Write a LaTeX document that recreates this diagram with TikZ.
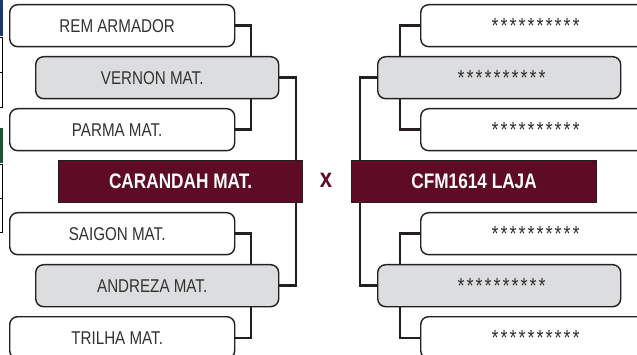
\documentclass[tikz,border=0pt]{standalone}
\usepackage{fontspec}
\setmainfont{Liberation Sans}[FakeStretch=0.82]
\usetikzlibrary{calc}
\definecolor{boxgrey}{RGB}{220,221,222}
\definecolor{maroonc}{RGB}{93,12,35}
\definecolor{linec}{RGB}{35,31,32}
\definecolor{txtc}{RGB}{50,50,50}
\definecolor{bluebar}{RGB}{30,55,110}
\definecolor{greenbar}{RGB}{25,85,50}
\definecolor{thin}{RGB}{120,120,120}
\newcommand\lsh[1]{\kern-10pt #1}
\newcommand\sx{\makebox[9pt]{\fontsize{22}{22}\selectfont *}}
\newcommand\stars{\raisebox{-3pt}{\sx\sx\sx\sx\sx\sx\sx\sx\sx\sx}}
\tikzset{
  team/.style={draw=linec, line width=1.4pt, rounded corners=8pt, minimum height=42pt,
    anchor=north west, inner sep=0pt, text=txtc, font=\fontsize{18.5}{20}\selectfont},
  wbox/.style={team, fill=white},
  gbox/.style={team, fill=boxgrey},
  finalbox/.style={draw=linec, line width=1.2pt, fill=maroonc, text=white, minimum height=42pt,
    anchor=north west, inner sep=0pt, font=\fontsize{21}{23}\selectfont\bfseries},
  conn/.style={draw=linec, line width=2.4pt},
}
\begin{document}
\begin{tikzpicture}[x=1pt,y=-1pt]
\useasboundingbox (0,0) rectangle (637,355);
\clip (0,0) rectangle (637,355);
% left edge fragments
\fill[bluebar] (0,0) rectangle (2.5,36);
\draw[thin, line width=0.8pt] (0,37) -- (2.2,37) -- (2.2,107) -- (0,107);
\draw[thin, line width=0.8pt] (0,72) -- (2.2,72);
\fill[greenbar] (0,128) rectangle (2.5,163);
\draw[thin, line width=0.8pt] (0,164) -- (2.2,164) -- (2.2,232) -- (0,232);
\draw[thin, line width=0.8pt] (0,198) -- (2.2,198);
% junction x positions
\coordinate (jL) at (251,0);
\coordinate (jM) at (296,0);
\coordinate (jR) at (400,0);
\coordinate (jS) at (360,0);
% left boxes
\node[wbox, minimum width=225pt] (rem) at (9,4) {\lsh{REM ARMADOR}};
\node[gbox, minimum width=243pt] (vernon) at (35,56) {\lsh{VERNON MAT.}};
\node[wbox, minimum width=225pt] (parma) at (9,108) {\lsh{PARMA MAT.}};
\node[finalbox, minimum width=244pt] (car) at (58,160) {CARANDAH MAT.};
\node[wbox, minimum width=225pt] (saigon) at (9,212) {\lsh{SAIGON MAT.}};
\node[gbox, minimum width=243pt] (andreza) at (35,264) {\lsh{ANDREZA MAT.}};
\node[wbox, minimum width=225pt] (trilha) at (9,316) {\lsh{TRILHA MAT.}};
% right boxes
\node[wbox, minimum width=230pt] (r1) at (420,4) {\stars};
\node[gbox, minimum width=243pt] (r2) at (377,56) {\kern5pt\stars};
\node[wbox, minimum width=230pt] (r3) at (420,108) {\stars};
\node[finalbox, minimum width=245pt] (cfm) at (351,160) {CFM1614 LAJA};
\node[wbox, minimum width=230pt] (r4) at (420,212) {\stars};
\node[gbox, minimum width=243pt] (r5) at (377,264) {\kern5pt\stars};
\node[wbox, minimum width=230pt] (r6) at (420,316) {\stars};
% versus
\node[text=maroonc, font=\fontsize{27}{27}\selectfont\bfseries, inner sep=0pt] (vs) at (326,180) {x};
% connectors left
\draw[conn] (rem.east) -| (vernon.north -| jL);
\draw[conn] (parma.east) -| (vernon.south -| jL);
\draw[conn] (vernon.east) -| (car.north -| jM);
\draw[conn] (saigon.east) -| (andreza.north -| jL);
\draw[conn] (trilha.east) -| (andreza.south -| jL);
\draw[conn] (andreza.east) -| (car.south -| jM);
% connectors right
\draw[conn] (r1.west) -| (r2.north -| jR);
\draw[conn] (r3.west) -| (r2.south -| jR);
\draw[conn] (r2.west) -| (cfm.north -| jS);
\draw[conn] (r4.west) -| (r5.north -| jR);
\draw[conn] (r6.west) -| (r5.south -| jR);
\draw[conn] (r5.west) -| (cfm.south -| jS);
\end{tikzpicture}
\end{document}
